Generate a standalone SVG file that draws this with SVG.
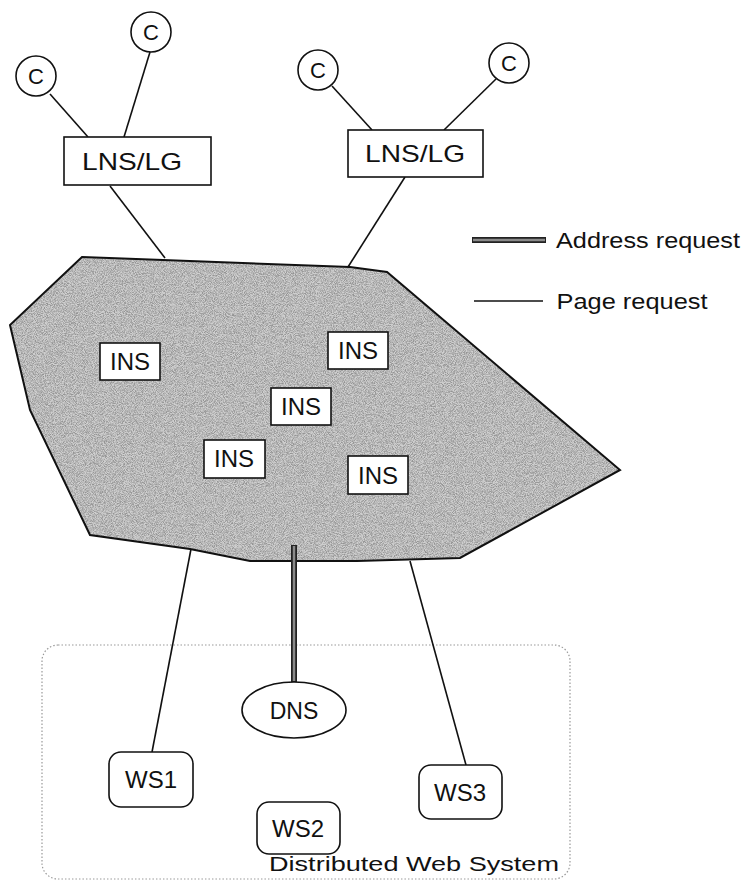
<svg xmlns="http://www.w3.org/2000/svg" width="745" height="884" viewBox="0 0 745 884">
<style>
  .t{font-family:"Liberation Sans",Arial,sans-serif;fill:#111;text-anchor:middle}
  .nd{fill:#fff;stroke:#111;stroke-width:1.6}
  .ln{stroke:#111;stroke-width:1.6;fill:none}
  .thk-o{stroke:#222;stroke-width:6;fill:none}
  .thk-i{stroke:#8a8a8a;stroke-width:2.5;fill:none}
</style>
<defs>
  <filter id="speck" x="0" y="0" width="1" height="1">
    <feTurbulence type="fractalNoise" baseFrequency="1.1" numOctaves="2" seed="7" result="n"/>
    <feColorMatrix in="n" type="matrix" values="0 0 0 0 0.3  0 0 0 0 0.3  0 0 0 0 0.3  2.6 0 0 0 -0.9" result="d"/>
    <feComposite in="d" in2="SourceGraphic" operator="in"/>
  </filter>
</defs>
<rect width="745" height="884" fill="#fff"/>

<g id="internet">
  <polygon points="82,257 163,260 350,267 387,272 620,470 460,558 357,561 250,561 190,549 90,535 30,410 10,325" fill="#cfcfcf"/>
  <polygon points="82,257 163,260 350,267 387,272 620,470 460,558 357,561 250,561 190,549 90,535 30,410 10,325" fill="#000" filter="url(#speck)"/>
  <polygon points="82,257 163,260 350,267 387,272 620,470 460,558 357,561 250,561 190,549 90,535 30,410 10,325" fill="none" stroke="#111" stroke-width="2"/>
</g>

<g id="dws">
  <rect x="42" y="645" width="528" height="234" rx="16" fill="none" stroke="#999" stroke-width="1.2" stroke-dasharray="1.5 2"/>
  <text class="t" x="414" y="871" font-size="21" textLength="290" lengthAdjust="spacingAndGlyphs">Distributed Web System</text>
</g>

<g id="connectors">
  <line class="ln" x1="50" y1="94" x2="88" y2="137"/>
  <line class="ln" x1="150" y1="52" x2="124" y2="137"/>
  <line class="ln" x1="110" y1="186" x2="165" y2="258"/>
  <line class="ln" x1="332" y1="86" x2="372" y2="130"/>
  <line class="ln" x1="496" y1="79" x2="444" y2="130"/>
  <line class="ln" x1="405" y1="177" x2="348" y2="267"/>
  <line class="ln" x1="191" y1="549" x2="152" y2="752"/>
  <line class="ln" x1="410" y1="561" x2="466" y2="765"/>
  <line class="thk-o" x1="294" y1="545" x2="294" y2="682"/>
  <line class="thk-i" x1="294" y1="546" x2="294" y2="681"/>
</g>

<g id="c1"><ellipse class="nd" cx="36" cy="76" rx="20" ry="20"/><text class="t" x="36" y="84" font-size="22">C</text></g>
<g id="c2"><ellipse class="nd" cx="151" cy="32" rx="20" ry="20"/><text class="t" x="151" y="40" font-size="22">C</text></g>
<g id="c3"><ellipse class="nd" cx="318" cy="70" rx="20" ry="20"/><text class="t" x="318" y="78" font-size="22">C</text></g>
<g id="c4"><ellipse class="nd" cx="509" cy="63" rx="20" ry="20"/><text class="t" x="509" y="71" font-size="22">C</text></g>

<g id="lns1"><rect class="nd" x="64" y="137" width="147" height="48"/><text class="t" x="132" y="170" font-size="24" textLength="100" lengthAdjust="spacingAndGlyphs">LNS/LG</text></g>
<g id="lns2"><rect class="nd" x="348" y="130" width="135" height="47"/><text class="t" x="415" y="162" font-size="24" textLength="100" lengthAdjust="spacingAndGlyphs">LNS/LG</text></g>

<g id="ins1"><rect class="nd" x="100" y="343" width="60" height="37"/><text class="t" x="130" y="370" font-size="24">INS</text></g>
<g id="ins2"><rect class="nd" x="328" y="332" width="60" height="37"/><text class="t" x="358" y="359" font-size="24">INS</text></g>
<g id="ins3"><rect class="nd" x="271" y="388" width="60" height="37"/><text class="t" x="301" y="415" font-size="24">INS</text></g>
<g id="ins4"><rect class="nd" x="204" y="440" width="61" height="38"/><text class="t" x="234" y="467" font-size="24">INS</text></g>
<g id="ins5"><rect class="nd" x="348" y="456" width="60" height="38"/><text class="t" x="378" y="484" font-size="24">INS</text></g>

<g id="dns"><ellipse class="nd" cx="294" cy="710" rx="52" ry="28"/><text class="t" x="294" y="719" font-size="23">DNS</text></g>
<g id="ws1"><rect class="nd" x="109" y="752" width="84" height="55" rx="12"/><text class="t" x="151" y="788" font-size="24">WS1</text></g>
<g id="ws2"><rect class="nd" x="257" y="802" width="83" height="52" rx="12"/><text class="t" x="298" y="837" font-size="24">WS2</text></g>
<g id="ws3"><rect class="nd" x="419" y="765" width="83" height="54" rx="12"/><text class="t" x="460" y="801" font-size="24">WS3</text></g>

<g id="legend">
  <line class="thk-o" x1="472" y1="240" x2="546" y2="240"/>
  <line class="thk-i" x1="473" y1="240" x2="545" y2="240"/>
  <text class="t" x="648" y="248" font-size="22" textLength="184" lengthAdjust="spacingAndGlyphs">Address request</text>
  <line class="ln" x1="474" y1="301" x2="543" y2="301"/>
  <text class="t" x="632" y="309" font-size="22" textLength="151" lengthAdjust="spacingAndGlyphs">Page request</text>
</g>
</svg>
